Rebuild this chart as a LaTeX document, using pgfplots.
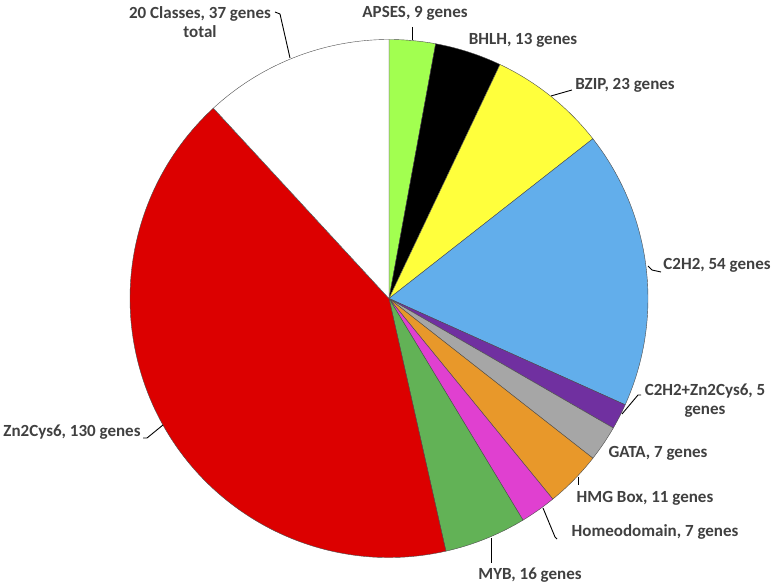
\documentclass[border=0pt]{standalone}
\usepackage{fontspec}
\setmainfont{Carlito}
\usepackage{pgfplots}
\usepackage{pgfplotstable}
\pgfplotsset{compat=1.18}

\definecolor{cAPSES}{HTML}{A2FF50}
\definecolor{cBHLH}{HTML}{000000}
\definecolor{cBZIP}{HTML}{FFFF3C}
\definecolor{cC2H2}{HTML}{62AEEB}
\definecolor{cC2Z}{HTML}{7030A0}
\definecolor{cGATA}{HTML}{A6A6A6}
\definecolor{cHMG}{HTML}{E8982A}
\definecolor{cHomeo}{HTML}{E040D0}
\definecolor{cMYB}{HTML}{62B256}
\definecolor{cZn}{HTML}{DC0000}
\definecolor{labelgray}{HTML}{404040}

% gene classes, clockwise from 12 o'clock
\pgfplotstableread{
name value color
APSES 9 cAPSES
BHLH 13 cBHLH
BZIP 23 cBZIP
C2H2 54 cC2H2
C2H2+Zn2Cys6 5 cC2Z
GATA 7 cGATA
HMGBox 11 cHMG
Homeodomain 7 cHomeo
MYB 16 cMYB
Zn2Cys6 130 cZn
Other 37 white
}\genetable

\begin{document}
\begin{tikzpicture}
\path[use as bounding box] (0,0) rectangle (774pt,586pt);
\begin{axis}[hide axis, scale only axis, x=259pt, y=259pt,
  xmin=-1, xmax=1, ymin=-1, ymax=1, clip=false,
  anchor=south west, at={(130pt,28.5pt)}]
  \pgfplotstablegetrowsof{\genetable}
  \pgfmathtruncatemacro\nrows{\pgfplotsretval-1}
  \def\total{0}
  \pgfplotsforeachungrouped \i in {0,...,\nrows}{%
    \pgfplotstablegetelem{\i}{value}\of\genetable
    \pgfmathsetmacro\total{\total+\pgfplotsretval}}
  \def\cum{0}
  \pgfplotsforeachungrouped \i in {0,...,\nrows}{%
    \pgfplotstablegetelem{\i}{value}\of\genetable \let\val\pgfplotsretval
    \pgfplotstablegetelem{\i}{color}\of\genetable \let\col\pgfplotsretval
    \pgfmathsetmacro\astart{90-(\cum/\total)*360}
    \pgfmathsetmacro\cum{\cum+\val}
    \pgfmathsetmacro\aend{90-(\cum/\total)*360}
    \edef\wedge{\noexpand\filldraw[fill=\col, draw=black!70, line width=0.4pt]
      (axis cs:0,0) -- (axis cs:{cos(\astart)},{sin(\astart)})
      arc[start angle=\astart, end angle=\aend, radius=259pt] -- cycle;}
    \wedge
  }
\end{axis}
\begin{scope}[x=1pt, y=-1pt, yshift=586pt,
  every node/.style={font=\fontsize{17}{19}\selectfont\bfseries, text=labelgray, inner sep=0pt}]
  \node[align=center] at (200,22) {20 Classes, 37 genes\\total};
  \draw[line width=0.9pt] (275,12) -- (280,14) -- (290,58);
  \node at (415,13) {APSES, 9 genes};
  \draw[line width=0.9pt] (412,27) -- (412,40);
  \node at (523,40) {BHLH, 13 genes};
  \node at (625,85) {BZIP, 23 genes};
  \draw[line width=0.9pt] (572,90) -- (551,96);
  \node at (717,265) {C2H2, 54 genes};
  \draw[line width=0.9pt] (648,266) -- (652,270) -- (661,272);
  \node[align=center] at (705,401) {C2H2+Zn2Cys6, 5\\genes};
  \draw[line width=0.9pt] (641,395) -- (638,395) -- (622,414);
  \node at (658,453) {GATA, 7 genes};
  \node at (645,498) {HMG Box, 11 genes};
  \draw[line width=0.9pt] (578,477) -- (578,485);
  \node at (655,532) {Homeodomain, 7 genes};
  \draw[line width=0.9pt] (557,539) -- (555,537) -- (543,508);
  \node at (530,575) {MYB, 16 genes};
  \draw[line width=0.9pt] (491,538) -- (491,563);
  \node at (72,432) {Zn2Cys6, 130 genes};
  \draw[line width=0.9pt] (143,438) -- (147,438) -- (163,425);
\end{scope}
\end{tikzpicture}
\end{document}
